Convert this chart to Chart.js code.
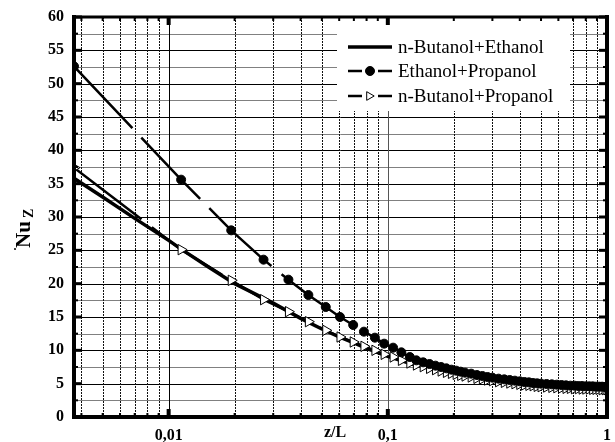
<!DOCTYPE html>
<html>
<head>
<meta charset="utf-8">
<script src="https://cdn.jsdelivr.net/npm/chart.js@4.4.1/dist/chart.umd.min.js"></script>
<style>
  html, body { margin: 0; padding: 0; background: #fff; }
</style>
</head>
<body>
<canvas id="chart" width="615" height="442"></canvas>
<script>
// z/L positions of the marker series (shared by both marker curves)
const zL = [0.0037, 0.0114, 0.0193, 0.0271, 0.0352, 0.0434, 0.0521, 0.0605, 0.0695, 0.0778,
  0.0873, 0.0962, 0.1057, 0.1153, 0.126, 0.135, 0.145, 0.155, 0.165, 0.175, 0.185, 0.195,
  0.205, 0.215, 0.225, 0.24, 0.255, 0.27, 0.285, 0.30, 0.32, 0.34, 0.36, 0.38, 0.40, 0.42,
  0.44, 0.46, 0.48, 0.50, 0.53, 0.56, 0.59, 0.62, 0.65, 0.68, 0.71, 0.74, 0.77, 0.80, 0.83,
  0.86, 0.89, 0.92, 0.95, 0.98, 1.0];

const nuEthProp = [52.6, 35.6, 28.0, 23.6, 20.6, 18.3, 16.5, 15.0, 13.8, 12.8,
  11.9, 11.0, 10.4, 9.7, 9.0, 8.5, 8.2, 7.95, 7.7, 7.5, 7.3, 7.1,
  6.95, 6.8, 6.65, 6.5, 6.3, 6.15, 6.0, 5.9, 5.75, 5.65, 5.55, 5.45, 5.35, 5.25,
  5.2, 5.1, 5.05, 5.0, 4.95, 4.9, 4.85, 4.8, 4.75, 4.7, 4.7, 4.65, 4.65, 4.6, 4.6,
  4.6, 4.55, 4.55, 4.55, 4.5, 4.5];

const nuButProp = [37.4, 25.1, 20.5, 17.6, 15.8, 14.3, 13.0, 12.0, 11.25, 10.6,
  10.0, 9.4, 9.0, 8.5, 8.1, 7.8, 7.55, 7.3, 7.1, 6.9, 6.7, 6.55,
  6.4, 6.25, 6.15, 6.0, 5.8, 5.7, 5.55, 5.45, 5.3, 5.2, 5.1, 5.0, 4.9, 4.8,
  4.75, 4.7, 4.6, 4.55, 4.5, 4.45, 4.4, 4.35, 4.3, 4.3, 4.25, 4.25, 4.2, 4.2, 4.2,
  4.15, 4.15, 4.15, 4.1, 4.1, 4.1];

// solid curve (no markers)
const zLButEth = [0.0037, 0.005, 0.007, 0.01, 0.0115, 0.015, 0.02, 0.03, 0.04, 0.05, 0.06,
  0.07, 0.08, 0.1, 0.13, 0.15, 0.2, 0.3, 0.4, 0.5, 0.7, 1];
const nuButEth = [35.8, 33.0, 29.8, 26.5, 25.1, 22.6, 20.0, 17.1, 14.8, 13.2, 12.0,
  11.1, 10.3, 9.1, 7.9, 7.4, 6.5, 5.5, 5.0, 4.6, 4.3, 4.1];

const seriesLabels = ['n-Butanol+Ethanol', 'Ethanol+Propanol', 'n-Butanol+Propanol'];

// axis ticks
const xGrid = [0.004, 0.005, 0.006, 0.007, 0.008, 0.009, 0.01, 0.02, 0.03, 0.04, 0.05,
  0.06, 0.07, 0.08, 0.09, 0.1, 0.2, 0.3, 0.4, 0.5, 0.6, 0.7, 0.8, 0.9, 1];
const xTickValues = [0.01, 0.1, 1];
const xTickLabels = ['0,01', '0,1', '1'];
const yGrid = [0, 2.5, 5, 7.5, 10, 12.5, 15, 17.5, 20, 22.5, 25, 27.5, 30, 32.5, 35, 37.5,
  40, 42.5, 45, 47.5, 50, 52.5, 55, 57.5, 60];

const SERIF = '"Liberation Serif", "Times New Roman", serif';
Chart.defaults.font.family = SERIF;
Chart.defaults.color = '#000';

const pts = (xs, ys) => xs.map((x, i) => ({ x, y: ys[i] }));
const isDecade = v => xTickValues.some(t => Math.abs(t - v) < 1e-9);

function drawMarker(ctx, ds, cx, cy) {
  if (!ds.pointRadius) return;
  ctx.save();
  ctx.setLineDash([]);
  ctx.fillStyle = ds.pointBackgroundColor;
  ctx.strokeStyle = ds.pointBorderColor;
  ctx.lineWidth = ds.pointBorderWidth;
  const r = ds.pointRadius;
  ctx.beginPath();
  if (ds.pointStyle === 'triangle') {
    ctx.moveTo(cx + r * 0.7, cy);
    ctx.lineTo(cx - r * 0.55, cy - r * 0.72);
    ctx.lineTo(cx - r * 0.55, cy + r * 0.72);
    ctx.closePath();
  } else {
    ctx.arc(cx, cy, r, 0, Math.PI * 2);
  }
  ctx.fill();
  ctx.stroke();
  ctx.restore();
}

const framePlugin = {
  id: 'frame',
  beforeDatasetsDraw(chart) {
    const { ctx, chartArea: a, scales: { x, y } } = chart;
    ctx.save();
    ctx.lineWidth = 1;
    // horizontal grid
    yGrid.forEach(v => {
      const py = Math.round(y.getPixelForValue(v)) + 0.5;
      ctx.strokeStyle = v % 5 === 0 ? '#000' : '#808080';
      ctx.beginPath(); ctx.moveTo(a.left, py); ctx.lineTo(a.right, py); ctx.stroke();
    });
    // vertical grid
    xGrid.forEach(v => {
      const px = Math.round(x.getPixelForValue(v)) + 0.5;
      if (isDecade(v)) {
        ctx.setLineDash([]);
        ctx.strokeStyle = v === 0.1 ? '#555' : '#000';
      } else {
        ctx.setLineDash([2, 1]);
        ctx.strokeStyle = '#111';
      }
      ctx.beginPath(); ctx.moveTo(px, a.top); ctx.lineTo(px, a.bottom); ctx.stroke();
    });
    ctx.setLineDash([]);
    // legend background
    ctx.fillStyle = '#fff';
    ctx.fillRect(337, a.top, 233, 111 - a.top);
    ctx.restore();
  },
  afterDraw(chart) {
    const { ctx, chartArea: a, scales: { x, y } } = chart;
    ctx.save();
    ctx.fillStyle = '#000';
    // tick marks, inward on all four sides
    yGrid.forEach(v => {
      const py = y.getPixelForValue(v);
      const major = v % 5 === 0;
      const len = major ? 8 : 4, w = major ? 3 : 2;
      ctx.fillRect(a.left, py - w / 2, len, w);
      ctx.fillRect(a.right - len, py - w / 2, len, w);
    });
    xGrid.forEach(v => {
      const px = x.getPixelForValue(v);
      const major = isDecade(v);
      const len = major ? 8 : 4, w = major ? 4 : 2;
      ctx.fillRect(px - w / 2, a.top, w, len);
      ctx.fillRect(px - w / 2, a.bottom - len, w, len);
    });
    // frame
    ctx.fillRect(a.left - 2, a.top - 2, 4, a.bottom - a.top + 4);
    ctx.fillRect(a.right - 2, a.top - 2, 4, a.bottom - a.top + 4);
    ctx.fillRect(a.left - 2, a.top - 1.5, a.right - a.left + 4, 3);
    ctx.fillRect(a.left - 2, a.bottom - 2, a.right - a.left + 4, 4);

    // legend
    const rowsY = [47, 71, 96];
    chart.data.datasets.forEach((ds, i) => {
      const ly = rowsY[i];
      ctx.strokeStyle = '#000';
      ctx.lineWidth = ds.borderWidth;
      ctx.beginPath();
      if (ds.pointRadius) {
        ctx.moveTo(348, ly); ctx.lineTo(362, ly);
        ctx.moveTo(378, ly); ctx.lineTo(392, ly);
      } else {
        ctx.moveTo(348, ly); ctx.lineTo(392, ly);
      }
      ctx.stroke();
      drawMarker(ctx, ds, 370, ly);
      ctx.fillStyle = '#000';
      ctx.font = '19px ' + SERIF;
      ctx.textAlign = 'left';
      ctx.textBaseline = 'middle';
      ctx.fillText(ds.label, 398, ly + 1);
    });

    // axis titles
    ctx.fillStyle = '#000';
    ctx.font = 'bold 16px ' + SERIF;
    ctx.textAlign = 'center';
    ctx.textBaseline = 'middle';
    ctx.fillText('z/L', 335, 433);

    ctx.save();
    ctx.translate(30, 248);
    ctx.rotate(-Math.PI / 2);
    ctx.textAlign = 'left';
    ctx.textBaseline = 'alphabetic';
    ctx.font = 'bold 21px ' + SERIF;
    ctx.fillText('Nu', 0, 0);
    ctx.font = 'bold 14px ' + SERIF;
    ctx.fillText('Z', 30, 3);
    ctx.restore();
    ctx.font = 'bold 12px ' + SERIF;
    ctx.fillText('\u00b7', 15, 250);
    ctx.restore();
  }
};

new Chart(document.getElementById('chart').getContext('2d'), {
  type: 'scatter',
  data: {
    datasets: [
      {
        label: seriesLabels[0],
        data: pts(zLButEth, nuButEth),
        showLine: true,
        borderColor: '#000',
        borderWidth: 3.5,
        pointRadius: 0,
        order: 3
      },
      {
        label: seriesLabels[1],
        data: pts(zL, nuEthProp),
        showLine: true,
        borderColor: '#000',
        borderWidth: 2.5,
        borderDash: [85, 13],
        pointStyle: 'circle',
        pointRadius: 4.5,
        pointBackgroundColor: '#000',
        pointBorderColor: '#000',
        pointBorderWidth: 1,
        order: 1
      },
      {
        label: seriesLabels[2],
        data: pts(zL, nuButProp),
        showLine: true,
        borderColor: '#000',
        borderWidth: 2.5,
        borderDash: [85, 13],
        pointStyle: 'triangle',
        rotation: 90,
        pointRadius: 6,
        pointBackgroundColor: '#fff',
        pointBorderColor: '#000',
        pointBorderWidth: 1,
        order: 2
      }
    ]
  },
  options: {
    responsive: false,
    animation: false,
    events: [],
    layout: { padding: { top: 17, right: 8, left: 0, bottom: 0 } },
    plugins: {
      legend: { display: false },
      tooltip: { enabled: false }
    },
    scales: {
      x: {
        type: 'logarithmic',
        min: 0.0037,
        max: 1,
        afterBuildTicks: scale => { scale.ticks = xGrid.map(v => ({ value: v })); },
        afterFit: scale => {
          scale.height = 25;
          scale.paddingLeft = 0;
          scale.paddingRight = 0;
        },
        grid: { display: false, drawTicks: false },
        border: { display: false },
        ticks: {
          autoSkip: false,
          maxRotation: 0,
          padding: 9,
          font: { size: 16, weight: 'bold' },
          callback: v => {
            const i = xTickValues.findIndex(t => Math.abs(t - v) < 1e-9);
            return i >= 0 ? xTickLabels[i] : '';
          }
        }
      },
      y: {
        min: 0,
        max: 60,
        afterFit: scale => {
          scale.width = 74;
          scale.paddingTop = 0;
          scale.paddingBottom = 0;
        },
        grid: { display: false, drawTicks: false },
        border: { display: false },
        ticks: {
          stepSize: 5,
          padding: 10,
          font: { size: 16, weight: 'bold' }
        }
      }
    }
  },
  plugins: [framePlugin]
});
</script>
</body>
</html>
